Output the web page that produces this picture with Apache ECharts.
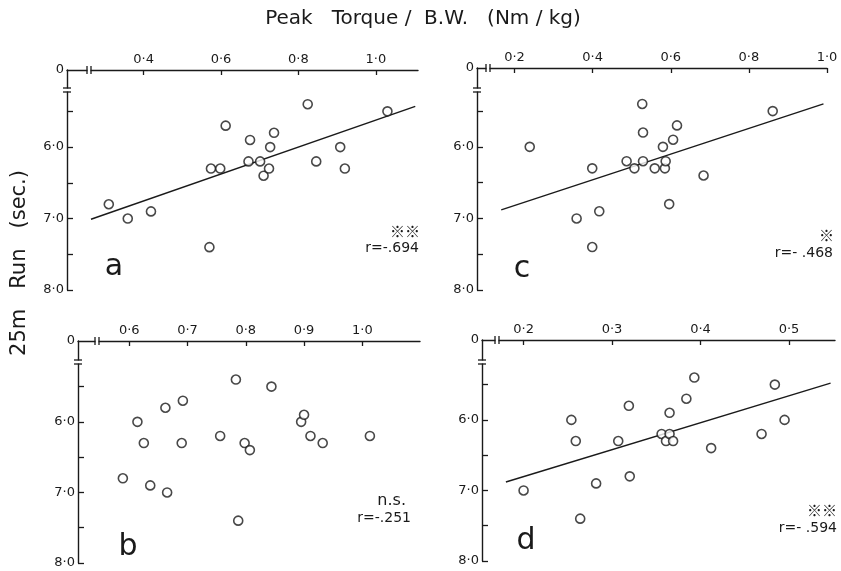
<!DOCTYPE html>
<html><head><meta charset="utf-8">
<script src="https://cdn.jsdelivr.net/npm/echarts@6/dist/echarts.min.js"></script>
<style>html,body{margin:0;padding:0;background:#fff}#c{width:841px;height:571px}</style>
</head><body><div id="c"></div>
<script>
// Panel a
const aX = [0.310,0.359,0.419,0.570,0.574,0.598,0.612,0.671,0.675,0.701,0.710,0.724,0.727,0.737,0.824,0.846,0.908,0.920,1.030];
const aY = [6.8,7.0,6.9,7.4,6.3,6.3,5.7,6.2,5.9,6.2,6.4,6.3,6.0,5.8,5.4,6.2,6.0,6.3,5.5];
const aLineX = [0.264,1.102];
const aLineY = [7.01,5.43];
// Panel b
const bX = [0.589,0.614,0.625,0.636,0.662,0.665,0.692,0.690,0.756,0.783,0.787,0.798,0.807,0.844,0.895,0.900,0.911,0.932,1.013];
const bY = [6.8,6.0,6.3,6.9,5.8,7.0,5.7,6.3,6.2,5.4,7.4,6.3,6.4,5.5,6.0,5.9,6.2,6.3,6.2];
// Panel c
const cX = [0.239,0.359,0.399,0.399,0.417,0.487,0.507,0.527,0.529,0.529,0.559,0.580,0.585,0.587,0.596,0.606,0.616,0.684,0.861];
const cY = [6.0,7.0,6.3,7.4,6.9,6.2,6.3,5.4,5.8,6.2,6.3,6.0,6.3,6.2,6.8,5.9,5.7,6.4,5.5];
const cLineX = [0.166,0.991];
const cLineY = [6.88,5.40];
// Panel d
const dX = [0.200,0.254,0.259,0.264,0.282,0.307,0.319,0.320,0.356,0.361,0.365,0.365,0.369,0.384,0.393,0.412,0.469,0.484,0.495];
const dY = [7.0,6.0,6.3,7.4,6.9,6.3,5.8,6.8,6.2,6.3,6.2,5.9,6.3,5.7,5.4,6.4,6.2,5.5,6.0];
const dLineX = [0.180,0.547];
const dLineY = [6.88,5.48];
// Tick values
const aTicks = [0.4,0.6,0.8,1.0];
const bTicks = [0.6,0.7,0.8,0.9,1.0];
const cTicks = [0.2,0.4,0.6,0.8,1.0];
const dTicks = [0.2,0.3,0.4,0.5];
const yTicks = [5.5,6.0,6.5,7.0,7.5,8.0];
const yLabels = [6.0,7.0,8.0];

const pair = (xs, ys) => xs.map((x, i) => [x, ys[i]]);
const fmt = v => v.toFixed(1).replace('.', '\u00b7');
const INK = '#1a1a1a';
const FONT = 'DejaVu Sans';

const panels = [
  {grid:{left:67,top:70,width:351,height:220}, xmin:0.202, xmax:1.109, ymin:4.921, ticks:aTicks, pts:pair(aX,aY), line:pair(aLineX,aLineY), xb:22, yb:20},
  {grid:{left:78,top:341,width:342,height:222}, xmin:0.512, xmax:1.099, ymin:4.854, ticks:bTicks, pts:pair(bX,bY), line:null, xb:19, yb:21},
  {grid:{left:477,top:68,width:350,height:222}, xmin:0.104, xmax:1.0, ymin:4.898, ticks:cTicks, pts:pair(cX,cY), line:pair(cLineX,cLineY), xb:11, yb:22},
  {grid:{left:482,top:340,width:353,height:221}, xmin:0.153, xmax:0.552, ymin:4.868, ticks:dTicks, pts:pair(dX,dY), line:pair(dLineX,dLineY), xb:15, yb:22}
];

const grid = [], xAxis = [], yAxis = [], series = [];
panels.forEach((p, i) => {
  grid.push(Object.assign({containLabel:false}, p.grid));
  xAxis.push({
    type:'value', gridIndex:i, position:'top', min:p.xmin, max:p.xmax,
    axisLine:{show:true, onZero:false, lineStyle:{color:INK, width:1.4}},
    axisTick:{show:true, inside:true, length:5, customValues:p.ticks, lineStyle:{color:INK, width:1.3}},
    axisLabel:{show:true, customValues:p.ticks, formatter:fmt, color:INK, fontSize:13, fontFamily:FONT, margin:4},
    splitLine:{show:false}
  });
  const ymin = p.ymin;
  yAxis.push({
    type:'value', gridIndex:i, inverse:true, min:ymin, max:8.0,
    axisLine:{show:true, onZero:false, lineStyle:{color:INK, width:1.4}},
    axisTick:{show:true, inside:true, length:6, customValues:yTicks, lineStyle:{color:INK, width:1.3}},
    axisLabel:{show:true, customValues:[ymin].concat(yLabels), showMinLabel:true, showMaxLabel:true,
      formatter:v => Math.abs(v - ymin) < 1e-6 ? '0' : fmt(v), color:INK, fontSize:13, fontFamily:FONT, margin:3},
    splitLine:{show:false}
  });
  series.push({
    type:'scatter', xAxisIndex:i, yAxisIndex:i, data:p.pts, symbol:'circle', symbolSize:9,
    itemStyle:{color:'#fff', borderColor:INK, borderWidth:1.6}, z:3, silent:true
  });
  if (p.line) {
    series.push({
      type:'line', xAxisIndex:i, yAxisIndex:i, data:p.line, symbol:'none',
      lineStyle:{color:INK, width:1.4}, z:2, silent:true
    });
  }
});

const txt = (x, y, s, size, align) => ({
  type:'text', x:x, y:y,
  style:{text:s, fill:INK, font:(size)+'px "' + FONT + '"', textAlign:align||'left', textVerticalAlign:'middle'}
});

const chart = echarts.init(document.getElementById('c'), null, {renderer:'canvas'});
chart.setOption({
  animation:false, backgroundColor:'#fff',
  grid, xAxis, yAxis, series
});

// graphics: titles, annotations, axis break marks
const g = [];
g.push({type:'text', x:423, y:19, style:{text:'Peak   Torque /  B.W.   (Nm / kg)', fill:INK, font:'20px "DejaVu Sans"', textAlign:'center', textVerticalAlign:'middle'}});
g.push({type:'text', x:20, y:263, rotation:Math.PI/2, style:{text:'25m   Run   (sec.)', fill:INK, font:'21px "DejaVu Sans"', textAlign:'center', textVerticalAlign:'middle'}});
// panel letters
g.push(txt(114, 267, 'a', 30, 'center'));
g.push(txt(128, 547, 'b', 30, 'center'));
g.push(txt(522, 269, 'c', 30, 'center'));
g.push(txt(526, 541, 'd', 30, 'center'));
// stats
const SFONT = '14px "DejaVu Sans"';
const MARK = 'bold 15px "Noto Sans CJK JP"';
const st = (x, y, s, font) => ({type:'text', x:x, y:y, style:{text:s, fill:INK, font:font||SFONT, textAlign:'right', textVerticalAlign:'middle'}});
g.push(st(420, 231, '\u203b\u203b', MARK));
g.push(st(419, 248, 'r=-.694'));
g.push(st(834, 235, '\u203b', MARK));
g.push(st(833, 253, 'r=- .468'));
g.push(st(406, 501, 'n.s.', '16px "DejaVu Sans"'));
g.push(st(411, 518, 'r=-.251'));
g.push(st(837, 510, '\u203b\u203b', MARK));
g.push(st(837, 528, 'r=- .594'));

// axis break marks, placed relative to each grid corner
panels.forEach((p, i) => {
  const corner = chart.convertToPixel({gridIndex:i}, [p.xmin, p.ymin]);
  const cx = corner[0], cy = corner[1];
  const bx = cx + p.xb, by = cy + p.yb;
  g.push({type:'rect', shape:{x:bx-1.5, y:cy-2, width:3, height:4}, style:{fill:'#fff'}, z:10});
  g.push({type:'line', shape:{x1:bx-2, y1:cy-4, x2:bx-2, y2:cy+4}, style:{stroke:INK, lineWidth:1.3}, z:11});
  g.push({type:'line', shape:{x1:bx+2, y1:cy-4, x2:bx+2, y2:cy+4}, style:{stroke:INK, lineWidth:1.3}, z:11});
  g.push({type:'rect', shape:{x:cx-2, y:by-1.5, width:4, height:3}, style:{fill:'#fff'}, z:10});
  g.push({type:'line', shape:{x1:cx-4, y1:by-2, x2:cx+4, y2:by-2}, style:{stroke:INK, lineWidth:1.3}, z:11});
  g.push({type:'line', shape:{x1:cx-4, y1:by+2, x2:cx+4, y2:by+2}, style:{stroke:INK, lineWidth:1.3}, z:11});
});
chart.setOption({graphic:g});
</script>
</body></html>
